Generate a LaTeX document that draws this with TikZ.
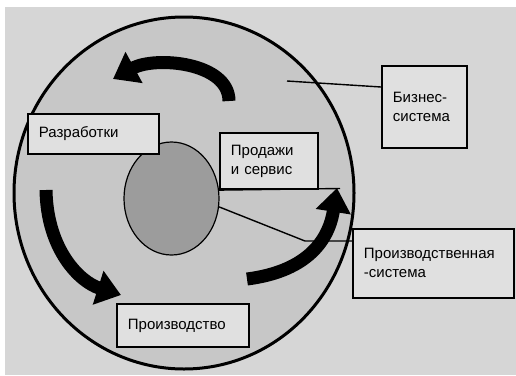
\documentclass[tikz,border=0pt]{standalone}
\usepackage{fontspec}
\setmainfont{Liberation Sans}
\usetikzlibrary{arrows.meta,shapes.geometric,calc}
\definecolor{paper}{gray}{0.84}
\definecolor{ringgray}{gray}{0.78}
\definecolor{coregray}{gray}{0.61}
\definecolor{boxfill}{gray}{0.88}
\begin{document}
\begin{tikzpicture}[x=1pt,y=-1pt,
  label box/.style={draw=black, line width=1.8pt, fill=boxfill, inner xsep=11pt,
    inner ysep=0pt, align=left, anchor=north west,
    font=\fontsize{15}{19}\selectfont},
  cycle arrow/.style={line width=13pt, -{Triangle[length=24pt,width=34pt]}},
  leader/.style={line width=1.4pt}]
% page: white strip on top and left, grey field
\useasboundingbox (0,0) rectangle (516,375);
\fill[white] (0,0) rectangle (516,375);
\fill[paper] (5,7) rectangle (516,375);
% business system ring and production core
\node[ellipse, draw=black, line width=3pt, fill=ringgray,
  minimum width=340pt, minimum height=352pt, inner sep=0pt] (outer) at (184,193) {};
\node[ellipse, draw=black, line width=1.2pt, fill=coregray,
  minimum width=95pt, minimum height=113pt, inner sep=0pt] (core) at (171.5,198.5) {};
% leader lines
\coordinate (bizpt) at (287,81);
\coordinate (salesend) at (340,188.5);
\coordinate (knee) at (305,241);
\coordinate (bizpin) at (381,87);
\draw[leader] (bizpt) -- (bizpin);
\draw[leader] (core.10) -- (salesend);
\draw[leader] (core.-10) -- (knee) -- (knee -| 352,0);
% circulation arrows
\draw[cycle arrow] (229,101) .. controls (229,62) and (155,56) .. (113,79);
\draw[cycle arrow] (46,190) .. controls (47,250) and (80,282) .. (121,295);
\draw[cycle arrow] (247,279) .. controls (302,272) and (328,245) .. (337,188);
% boxes
\node[label box, text width=109pt, minimum height=40pt] (razr) at (27,113) {Разработки};
\node[label box, text width=76pt, minimum height=56pt] (sales) at (219,132) {Продажи\\и сервис};
\node[label box, text width=63pt, minimum height=82pt] (biz) at (381,65) {Бизнес-\\система};
\node[label box, text width=139pt, minimum height=69pt] (prodsys) at (352,228) {Производственная\\-система};
\node[label box, text width=110pt, minimum height=43pt] (prod) at (116,303) {Производство};
\end{tikzpicture}
\end{document}
